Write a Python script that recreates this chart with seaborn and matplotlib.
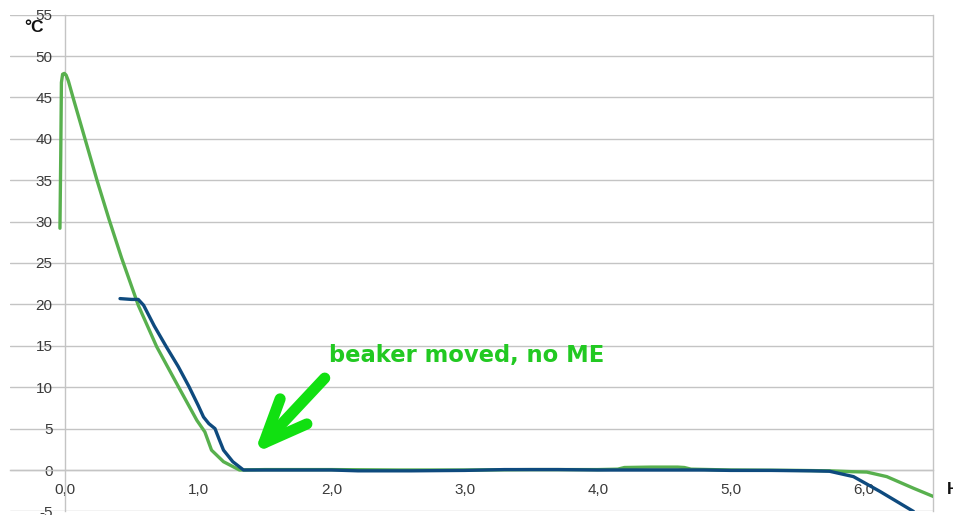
import matplotlib
matplotlib.use("Agg")
import matplotlib.pyplot as plt
import seaborn as sns
import pandas as pd

# ---- data ----
green_x = [-0.038, -0.032, -0.027, -0.018, -0.005, 0.008, 0.025, 0.06, 0.15, 0.24, 0.33, 0.425,
           0.55, 0.688, 0.85, 0.99, 1.05, 1.10, 1.19, 1.31, 1.5, 2.0, 2.5, 3.0, 3.5,
           4.0, 4.15, 4.2, 4.4, 4.6, 4.65, 4.7, 5.0, 5.5, 5.74, 5.9, 6.02, 6.17, 6.37, 6.52]
green_y = [29.2, 38.0, 46.8, 47.8, 47.9, 47.7, 47.0, 45.0, 40.0, 35.0, 30.3, 25.6,
           19.9, 14.9, 10.1, 6.0, 4.6, 2.4, 1.0, 0.0, 0.05, 0.05, 0.0, 0.0, 0.05,
           0.05, 0.1, 0.3, 0.35, 0.35, 0.3, 0.1, 0.0, -0.05, -0.1, -0.2, -0.25, -0.8, -2.2, -3.2]

blue_x = [0.413, 0.5, 0.55, 0.59, 0.67, 0.76, 0.85, 0.93, 1.0, 1.04, 1.08, 1.126, 1.16,
          1.19, 1.26, 1.34, 1.6, 2.0, 2.2, 2.6, 3.0, 3.3, 3.7, 4.0, 4.5, 4.8, 5.0, 5.3,
          5.6, 5.74, 5.92, 6.12, 6.37]
blue_y = [20.7, 20.6, 20.6, 19.9, 17.4, 14.9, 12.5, 10.1, 7.8, 6.4, 5.6, 5.0, 3.6,
          2.4, 1.0, 0.0, 0.0, 0.0, -0.1, -0.1, -0.05, 0.05, 0.05, 0.0, 0.0, 0.0, -0.05, -0.05,
          -0.1, -0.15, -0.8, -2.6, -5.0]

x_ticks = [0, 1, 2, 3, 4, 5, 6]
x_tick_labels = ["0,0", "1,0", "2,0", "3,0", "4,0", "5,0", "6,0"]
y_ticks = [-5, 0, 5, 10, 15, 20, 25, 30, 35, 40, 45, 50, 55]

annotation_text = "beaker moved, no ME"

# ---- plot ----
sns.set_theme(style="white")
plt.rcParams['font.family'] = ['Liberation Sans', 'DejaVu Sans']

fig = plt.figure(figsize=(9.54, 5.15), dpi=100)
ax = fig.add_axes([10/954, 3.6/515, 923/954, 496.8/515])

green_df = pd.DataFrame({"x": green_x, "y": green_y})
blue_df = pd.DataFrame({"x": blue_x, "y": blue_y})

sns.lineplot(data=green_df, x="x", y="y", ax=ax, sort=False, estimator=None,
             color="#58b04e", lw=2.4, zorder=3)
sns.lineplot(data=blue_df, x="x", y="y", ax=ax, sort=False, estimator=None,
             color="#0e4a7e", lw=2.4, zorder=4)

ax.set_xlim(-0.413, 6.517)
ax.set_ylim(-5, 55)
ax.set_xlabel("")
ax.set_ylabel("")

ax.set_yticks(y_ticks)
ax.set_yticklabels([str(v) for v in y_ticks])
ax.set_xticks(x_ticks)
ax.set_xticklabels(x_tick_labels)

ax.yaxis.grid(True, color="#c4c4c4", lw=1.0)
ax.xaxis.grid(False)
ax.set_axisbelow(True)

for s in ["left", "bottom"]:
    ax.spines[s].set_position(("data", 0))
for s in ax.spines.values():
    s.set_color("#c4c4c4")
    s.set_linewidth(1.0)
ax.spines["top"].set_visible(False)

ax.tick_params(axis="y", length=0, pad=9, labelsize=11, labelcolor="#3a3a3a")
ax.tick_params(axis="x", length=4, width=1, color="#c4c4c4", direction="out",
               pad=5, labelsize=11, labelcolor="#3a3a3a")

fig.text(24/954, 1 - 28/515, "°C", va="center", ha="left", fontsize=12.5,
         fontweight="bold", color="#111111")
fig.text(947/954, 1 - 490/515, "H", va="center", ha="left", fontsize=12,
         fontweight="bold", color="#111111")

ax.text(1.985, 13.8, annotation_text, fontsize=16.3, fontweight="bold",
        color="#22c922", family="DejaVu Sans", va="center", ha="left")

ax.annotate("", xy=(1.42, 2.0), xytext=(1.95, 11.1),
            arrowprops=dict(arrowstyle="->,head_length=2.6,head_width=1.1",
                            lw=8, color="#11e011", shrinkA=0, shrinkB=0,
                            capstyle="round", joinstyle="round"))

fig.savefig("out.png", dpi=100)
